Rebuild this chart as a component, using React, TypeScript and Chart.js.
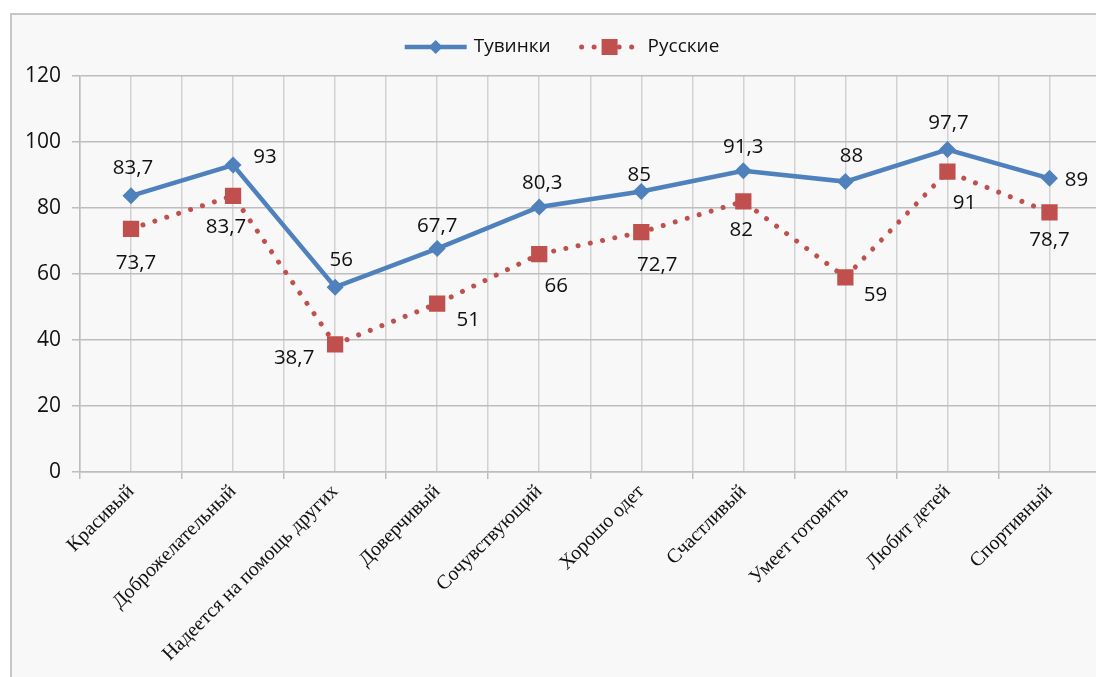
import React, { useEffect, useRef } from "react";
import { Chart, registerables } from "chart.js";

Chart.register(...registerables);

// ---- data ----
const categories = [
  "Красивый",
  "Доброжелательный",
  "Надеется на помощь других",
  "Доверчивый",
  "Сочувствующий",
  "Хорошо одет",
  "Счастливый",
  "Умеет готовить",
  "Любит детей",
  "Спортивный",
];
const seriesNames = ["Тувинки", "Русские"];
const tuvinkiValues = [83.7, 93, 56, 67.7, 80.3, 85, 91.3, 88, 97.7, 89];
const russkieValues = [73.7, 83.7, 38.7, 51, 66, 72.7, 82, 59, 91, 78.7];
const yMin = 0;
const yMax = 120;
const yStep = 20;

// ---- style ----
const BLUE = "#4f81bd";
const RED = "#c0504d";
const GRID_V = "#d2d2d2";
const GRID_H = "#bdbdbd";
const TEXT = "#111111";
const SANS = "'Open Sans', 'Noto Sans', sans-serif";
const SERIF = "'Liberation Serif', 'DejaVu Serif', serif";

// data-label placement offsets (style only), [dx, dy] in px relative to the point
const tuvinkiLabelOffsets = [
  [2, -28], [32, -8], [6, -27], [0, -22], [3, -24],
  [-2, -16], [0, -24], [6, -25], [1, -26], [27, 2],
];
const russkieLabelOffsets = [
  [5, 34], [-7, 31], [-41, 14], [31, 16], [17, 32],
  [16, 33], [-2, 29], [30, 18], [17, 31], [0, 28],
];
const labelOffsets = [tuvinkiLabelOffsets, russkieLabelOffsets];

const fmt = (v: number) => String(v).replace(".", ",");

const dataLabelsPlugin = {
  id: "dataLabels",
  afterDatasetsDraw(chart: any) {
    const ctx = chart.ctx;
    ctx.save();
    ctx.font = `20.5px ${SANS}`;
    ctx.fillStyle = TEXT;
    ctx.textAlign = "center";
    ctx.textBaseline = "middle";
    chart.data.datasets.forEach((ds: any, di: number) => {
      const meta = chart.getDatasetMeta(di);
      meta.data.forEach((el: any, i: number) => {
        const off = labelOffsets[di][i];
        const v = ds.data[i].y;
        ctx.fillText(fmt(v), el.x + off[0], el.y + off[1]);
      });
    });
    ctx.restore();
  },
};

const legendPlugin = {
  id: "excelLegend",
  afterDraw(chart: any) {
    const ctx = chart.ctx;
    ctx.save();
    ctx.font = `19px ${SANS}`;
    const sampleW = 62;
    const textGap = 7;
    const itemGap = 28;
    const ds = chart.data.datasets;
    const widths = ds.map((d: any) => sampleW + textGap + ctx.measureText(d.label).width);
    const total = widths.reduce((a: number, b: number) => a + b, 0) + itemGap * (ds.length - 1);
    let x = (chart.width - total) / 2;
    const y = 32;
    ds.forEach((d: any, i: number) => {
      // line sample
      ctx.save();
      ctx.strokeStyle = d.borderColor;
      ctx.lineWidth = d.borderWidth;
      ctx.lineCap = d.borderCapStyle || "butt";
      ctx.setLineDash(d.borderDash || []);
      ctx.beginPath();
      ctx.moveTo(x + (d.borderDash ? 3 : 0), y);
      ctx.lineTo(x + sampleW, y);
      ctx.stroke();
      ctx.restore();
      // marker
      const cx = x + sampleW / 2;
      ctx.fillStyle = d.backgroundColor;
      ctx.beginPath();
      if (d.pointStyle === "rectRot") {
        const r = 7;
        ctx.moveTo(cx - r, y);
        ctx.lineTo(cx, y - r);
        ctx.lineTo(cx + r, y);
        ctx.lineTo(cx, y + r);
        ctx.closePath();
      } else {
        const s = 8;
        ctx.rect(cx - s, y - s, 2 * s, 2 * s);
      }
      ctx.fill();
      // text
      ctx.fillStyle = TEXT;
      ctx.textAlign = "left";
      ctx.textBaseline = "middle";
      ctx.fillText(d.label, x + sampleW + textGap, y);
      x += widths[i] + itemGap;
    });
    ctx.restore();
  },
};

const xTickValues: number[] = [];
for (let k = 0; k <= categories.length * 2; k++) xTickValues.push((k - 1) / 2);

export default function App() {
  const canvasRef = useRef<HTMLCanvasElement | null>(null);

  useEffect(() => {
    const canvas = canvasRef.current;
    if (!canvas) return;
    const chart = new Chart(canvas, {
      type: "line",
      data: {
        datasets: [
          {
            label: seriesNames[0],
            data: tuvinkiValues.map((v, i) => ({ x: i, y: v })),
            borderColor: BLUE,
            backgroundColor: BLUE,
            borderWidth: 4.5,
            pointStyle: "rectRot",
            pointRadius: 8.5,
            pointBorderWidth: 0,
            pointBackgroundColor: BLUE,
            tension: 0,
          },
          {
            label: seriesNames[1],
            data: russkieValues.map((v, i) => ({ x: i, y: v })),
            borderColor: RED,
            backgroundColor: RED,
            borderWidth: 5,
            borderDash: [0.01, 12.5],
            borderCapStyle: "round",
            pointStyle: "rect",
            pointRadius: 11.5,
            pointBorderWidth: 0,
            pointBackgroundColor: RED,
            tension: 0,
          },
        ] as any,
      },
      options: {
        responsive: false,
        animation: false,
        layout: { padding: { top: 61, right: 8, left: 0, bottom: 0 } },
        plugins: {
          legend: { display: false },
          tooltip: { enabled: false },
        },
        scales: {
          x: {
            type: "linear",
            min: -0.5,
            max: categories.length - 0.5,
            afterBuildTicks: (scale: any) => {
              scale.ticks = xTickValues.map((v) => ({ value: v }));
            },
            afterFit: (scale: any) => {
              scale.height = 208;
              scale.paddingLeft = 0;
              scale.paddingRight = 0;
            },
            ticks: {
              autoSkip: false,
              minRotation: 45,
              maxRotation: 45,
              padding: 1,
              color: TEXT,
              font: { family: SERIF, size: 20 },
              callback: (v: any) => (Number.isInteger(v) ? categories[v] : ""),
            },
            grid: {
              color: GRID_V,
              lineWidth: 1.5,
              tickLength: 7,
              tickColor: (c: any) =>
                c.tick && Number.isInteger(c.tick.value) ? "rgba(0,0,0,0)" : GRID_H,
            } as any,
            border: { color: GRID_H, width: 1.5 },
          },
          y: {
            min: yMin,
            max: yMax,
            afterFit: (scale: any) => {
              scale.width = 68;
            },
            ticks: {
              stepSize: yStep,
              padding: 11,
              color: TEXT,
              font: { family: SANS, size: 21 },
            },
            grid: { color: GRID_H, lineWidth: 1.5, tickLength: 8, tickColor: GRID_H },
            border: { color: GRID_H, width: 1.5 },
          },
        },
      } as any,
      plugins: [dataLabelsPlugin, legendPlugin],
    });
    return () => chart.destroy();
  }, []);

  return (
    <div
      style={{
        position: "absolute",
        left: 0,
        top: 0,
        width: 1096,
        height: 677,
        overflow: "hidden",
        background: "#ffffff",
      }}
    >
      <div
        style={{
          position: "absolute",
          left: 10,
          top: 13,
          width: 1100,
          height: 665,
          border: "2px solid #c6c6c6",
          background: "#f8f8f8",
        }}
      >
        <canvas
          ref={canvasRef}
          width={1100}
          height={665}
          style={{ display: "block", width: 1100, height: 665 }}
        />
      </div>
    </div>
  );
}
